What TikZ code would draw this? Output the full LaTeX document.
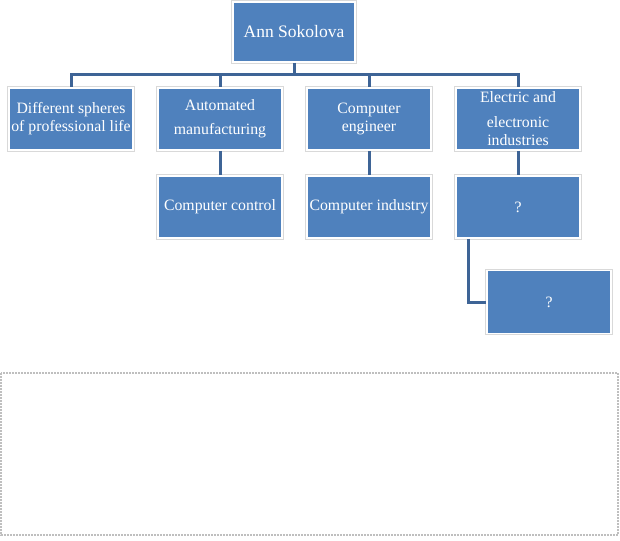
\documentclass[tikz,border=0pt]{standalone}
\usepackage{fontspec}
\setmainfont{Liberation Serif}
\usepackage{tikz}
\usetikzlibrary{positioning}
\definecolor{boxblue}{RGB}{79,129,189}
\definecolor{linkblue}{RGB}{62,100,150}

\begin{document}
\begin{tikzpicture}[x=1pt,y=-1pt,node distance=149pt,on grid,
	chartbox/.style={rectangle, fill=boxblue, draw=white, line width=1.8pt,
		preaction={draw=black!15, line width=3.4pt},
		minimum width=124pt, minimum height=62pt, inner sep=1pt, align=center,
		text=white, font=\fontsize{15.8}{18}\selectfont},
	link/.style={draw=linkblue, line width=3pt}]
	\useasboundingbox (0,0) rectangle (620,540);
	\node[chartbox, minimum width=122pt, minimum height=60pt, font=\fontsize{17.5}{20}\selectfont] (ann) at (294,32) {Ann Sokolova};
	\node[chartbox] (spheres) at (71,119) {Different spheres\\of professional life};
	\node[chartbox, right = of spheres] (automated) {Automated\\[6pt]manufacturing};
	\node[chartbox, right = of automated] (engineer) {Computer\\engineer};
	\node[chartbox, right = of engineer] (electric) {Electric and\\[7pt]electronic\\industries};
	\node[chartbox, below = 88pt of automated] (control) {Computer control};
	\node[chartbox, below = 88pt of engineer] (industry) {Computer industry};
	\node[chartbox, below = 88pt of electric] (q1) {?};
	\node[chartbox, minimum height=63pt, below right = 95pt and 31pt of q1] (q2) {?};
	
	\draw[link] (ann.south) -- ++(0,12) coordinate (bus);
	\foreach \n in {spheres,automated,engineer,electric}
		\draw[link] (bus) -| (\n.north);
	\draw[link] (automated.south) -- (control.north);
	\draw[link] (engineer.south) -- (industry.north);
	\draw[link] (electric.south) -- (q1.north);
	\draw[link] ([xshift=13pt]q1.south west) |- (q2.west);
	
	\draw[black!25, line width=1.8pt, dash pattern=on 2pt off 1pt] (1,373) rectangle (618,535);
\end{tikzpicture}
\end{document}
